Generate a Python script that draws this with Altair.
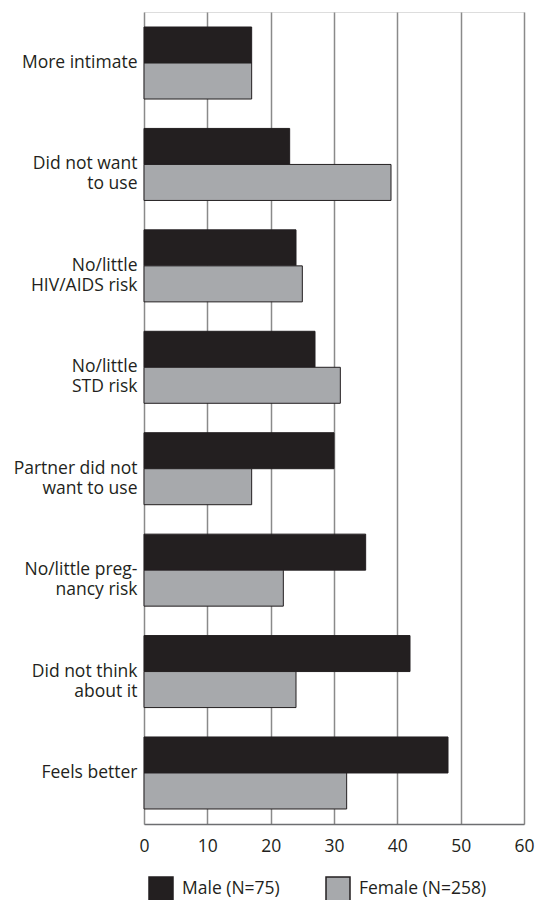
import altair as alt
import pandas as pd

reasons = [
    "More intimate",
    "Did not want|to use",
    "No/little|HIV/AIDS risk",
    "No/little|STD risk",
    "Partner did not|want to use",
    "No/little preg-|nancy risk",
    "Did not think|about it",
    "Feels better",
]
male = [17, 23, 24, 27, 30, 35, 42, 48]
female = [17, 39, 25, 31, 17, 22, 24, 32]
groups = ["Male (N=75)", "Female (N=258)"]
colors = ["#231f20", "#a7a9ac"]
ticks = [0, 10, 20, 30, 40, 50, 60]

rows = []
for r, m, f in zip(reasons, male, female):
    rows.append({"Reason": r, "Group": groups[0], "Value": m})
    rows.append({"Reason": r, "Group": groups[1], "Value": f})
df = pd.DataFrame(rows)

FONT = "Open Sans"
TXT = "#231f20"
FS = 17.5

chart = alt.Chart(df).mark_bar(stroke="#231f20", strokeWidth=1).encode(
    y=alt.Y(
        "Reason:N",
        sort=reasons,
        scale=alt.Scale(paddingInner=0.29, paddingOuter=0.148),
        axis=alt.Axis(
            title=None,
            labelExpr="split(datum.label, '|')",
            labelFontSize=FS,
            labelLineHeight=20,
            labelPadding=7,
            labelColor=TXT,
            labelLimit=300,
            ticks=False,
            domain=False,
            grid=False,
        ),
    ),
    yOffset=alt.YOffset(
        "Group:N", sort=groups, scale=alt.Scale(paddingInner=0, paddingOuter=0)
    ),
    x=alt.X(
        "Value:Q",
        scale=alt.Scale(domain=[0, 60], nice=False),
        axis=alt.Axis(
            title=None,
            values=ticks,
            grid=True,
            gridColor="#8a8a8a",
            gridWidth=1.5,
            ticks=False,
            domainColor="#6d6e71",
            domainWidth=1.5,
            labelFontSize=FS,
            labelPadding=13,
            labelColor=TXT,
            labelFlush=False,
            labelOverlap=False,
        ),
    ),
    color=alt.Color(
        "Group:N",
        sort=groups,
        scale=alt.Scale(domain=groups, range=colors),
        legend=alt.Legend(
            title=None,
            orient="none",
            legendX=4,
            legendY=864,
            direction="horizontal",
            symbolType="square",
            symbolSize=576,
            symbolStrokeColor="#231f20",
            symbolStrokeWidth=1.5,
            symbolOpacity=1,
            labelFontSize=FS,
            labelColor=TXT,
            labelOffset=8,
            columnPadding=43,
            padding=0,
        ),
    ),
).properties(
    width=380,
    height=812,
    autosize=alt.AutoSizeParams(type="none"),
    padding={"left": 136, "top": 4, "right": 11, "bottom": 76},
).configure_view(stroke=None).configure(font=FONT)

chart.save("out.html", embed_options={"renderer": "svg", "actions": False})
